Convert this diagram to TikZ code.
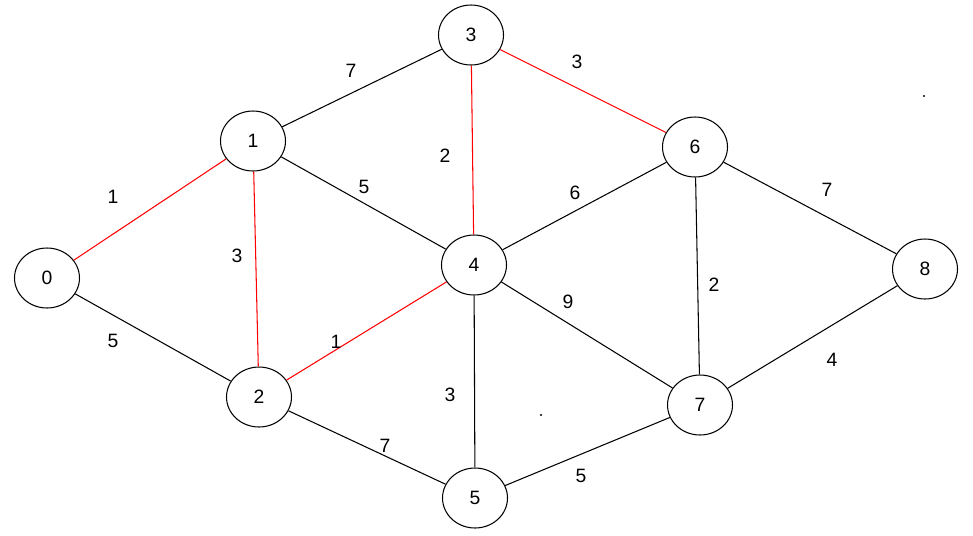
\documentclass[tikz,border=0pt]{standalone}
\usepackage{fontspec}
\setmainfont{Liberation Sans}
\usetikzlibrary{shapes.geometric}
\begin{document}
\begin{tikzpicture}
[
	x=0.02cm,
	y=-0.02cm,
	vertex/.style={ellipse,draw,line width=0.6pt,inner sep=0pt,minimum width=1.3cm,minimum height=1.2cm,font=\fontsize{11}{13}\selectfont},
	edge/.style={line width=0.6pt},
	tree/.style={edge,red},
	weight/.style={font=\fontsize{11}{13}\selectfont}
]
	\useasboundingbox (0,0) rectangle (973,535);

	% vertices
	\node[vertex] (v0) at (47,278) {0};
	\node[vertex] (v1) at (253,141) {1};
	\node[vertex] (v2) at (259,397) {2};
	\node[vertex] (v3) at (471,35) {3};
	\node[vertex] (v4) at (474,265) {4};
	\node[vertex] (v5) at (475,498) {5};
	\node[vertex] (v6) at (695,147) {6};
	\node[vertex] (v7) at (700,405) {7};
	\node[vertex] (v8) at (925,269) {8};

	% edges
	\draw[edge]
	  (v0) -- (v2)
	  (v1) -- (v3)
	  (v1) -- (v4)
	  (v2) -- (v5)
	  (v4) -- (v5)
	  (v4) -- (v6)
	  (v4) -- (v7)
	  (v5) -- (v7)
	  (v6) -- (v7)
	  (v6) -- (v8)
	  (v7) -- (v8)
	;

	% spanning tree
	\draw[tree]
	  (v0) -- (v1)
	  (v1) -- (v2)
	  (v2) -- (v4)
	  (v3) -- (v4)
	  (v3) -- (v6)
	;

	% weights
	\node[weight] (w13) at (351,71) {7};
	\node[weight] (w36) at (577,62) {3};
	\node[weight] (w01) at (113,197) {1};
	\node[weight] (w34) at (445,156) {2};
	\node[weight] (w14) at (364,187) {5};
	\node[weight] (w46) at (575,193) {6};
	\node[weight] (w68) at (827,190) {7};
	\node[weight] (w12) at (237,256) {3};
	\node[weight] (w67) at (714,285) {2};
	\node[weight] (w47) at (568,302) {9};
	\node[weight] (w02) at (113,341) {5};
	\node[weight] (w24) at (336,342) {1};
	\node[weight] (w78) at (832,360) {4};
	\node[weight] (w45) at (450,395) {3};
	\node[weight] (w25) at (385,446) {7};
	\node[weight] (w57) at (581,476) {5};

	% stray dots
	\fill (924,96) circle (0.6pt);
	\fill (541,415) circle (0.6pt);

\end{tikzpicture}
\end{document}
